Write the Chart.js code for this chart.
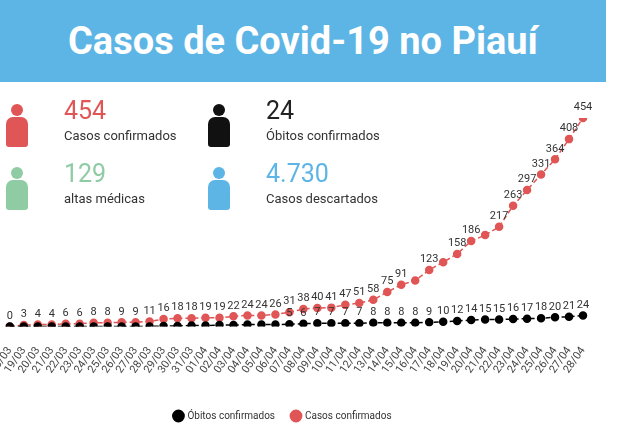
<!DOCTYPE html><html><head><meta charset="utf-8">
<script src="https://cdn.jsdelivr.net/npm/chart.js@4"></script>
<style>
body{margin:0;width:640px;height:431px;overflow:hidden;background:#fff;font-family:Roboto,sans-serif;position:relative}
#hdr{position:absolute;left:0;top:0;width:606px;height:82px;background:#5db5e6;color:#fff;font-weight:bold;font-size:38px;text-align:center;line-height:82px}
.num{position:absolute;font-size:25px;}
.lab{position:absolute;font-size:13px;color:#333;white-space:nowrap}
.head{position:absolute;width:12px;height:12px;border-radius:50%}
.body{position:absolute;width:22px;height:30px;border-radius:7px 7px 3px 3px}
canvas{position:absolute;left:-17px;top:0}
</style></head><body>
<canvas id="c" width="674" height="431"></canvas>
<div id="hdr">Casos de Covid-19 no Piauí</div>
<div id="stats"></div>
<script>
const dates=["18/03","19/03","20/03","21/03","22/03","23/03","24/03","25/03","26/03","27/03","28/03","29/03","30/03","31/03","01/04","02/04","03/04","04/04","05/04","06/04","07/04","08/04","09/04","10/04","11/04","12/04","13/04","14/04","15/04","16/04","17/04","18/04","19/04","20/04","21/04","22/04","23/04","24/04","25/04","26/04","27/04","28/04"];
const casos=[0,3,4,4,6,6,8,8,9,9,11,16,18,18,19,19,22,24,24,26,31,38,40,41,47,51,58,75,91,100,123,140,158,186,199,217,263,297,331,364,408,454];
const obitos=[0,0,0,0,0,0,0,0,0,0,0,1,1,2,2,3,3,4,4,4,5,6,7,7,7,7,8,8,8,8,9,10,12,14,15,15,16,17,18,20,21,24];
const casosLabels=casos.map((v,i)=>[29,31,34].includes(i)?"":String(v));
const obitosLabels=obitos.map((v,i)=>i<20?"":String(v));
const stats=[
 {n:"454",l:"Casos confirmados",c:"#e05555",x:14,y:100,nc:"#e05555"},
 {n:"24",l:"Óbitos confirmados",c:"#111",x:216,y:100,nc:"#222"},
 {n:"129",l:"altas médicas",c:"#8fcba3",x:14,y:163,nc:"#8fcba3"},
 {n:"4.730",l:"Casos descartados",c:"#5db5e6",x:216,y:163,nc:"#5db5e6"}];
const S=document.getElementById('stats');
stats.forEach(s=>{
 S.insertAdjacentHTML('beforeend',`<div class="head" style="left:${s.x-3}px;top:${s.y+4}px;background:${s.c}"></div>
 <div class="body" style="left:${s.x-8}px;top:${s.y+17}px;background:${s.c}"></div>
 <div class="num" style="left:${s.x+50}px;top:${s.y-4}px;color:${s.nc}">${s.n}</div>
 <div class="lab" style="left:${s.x+50}px;top:${s.y+28}px">${s.l}</div>`);
});
const lblPlugin={id:'lbl',afterDatasetsDraw(ch){const ctx=ch.ctx;ctx.save();ctx.font='11px Roboto';ctx.fillStyle='#333';ctx.textAlign='center';ctx.textBaseline='bottom';
 ch.data.datasets.forEach((d,di)=>{ch.getDatasetMeta(di).data.forEach((p,i)=>{const t=d.labels[i];if(t)ctx.fillText(t,p.x,p.y-5);});});ctx.restore();}};
new Chart(document.getElementById('c'),{type:'line',
 data:{labels:dates,datasets:[
 {label:'Óbitos confirmados',data:obitos,labels:obitosLabels,borderColor:'#000',backgroundColor:'#000',borderDash:[5,3],borderWidth:1.5,pointRadius:3.5,pointHoverRadius:3.5},
 {label:'Casos confirmados',data:casos,labels:casosLabels,borderColor:'#e05555',backgroundColor:'#e05555',borderDash:[5,3],borderWidth:1.5,pointRadius:3.5,pointHoverRadius:3.5}]},
 options:{responsive:false,animation:false,
 layout:{padding:{top:118,left:0,right:74,bottom:0}},
 scales:{y:{display:false,min:0,max:454},
 x:{grid:{display:false},border:{display:false},afterFit(s){s.height+=8;},ticks:{autoSkip:false,maxRotation:55,minRotation:55,padding:10,color:'#444',font:{size:11,family:'Roboto'}}}},
 plugins:{legend:{position:'bottom',labels:{usePointStyle:true,pointStyle:'circle',boxWidth:8,boxHeight:8,padding:17,color:'#333',font:{size:10,family:'Roboto'}}},tooltip:{enabled:false}}},
 plugins:[lblPlugin]});
</script></body></html>
